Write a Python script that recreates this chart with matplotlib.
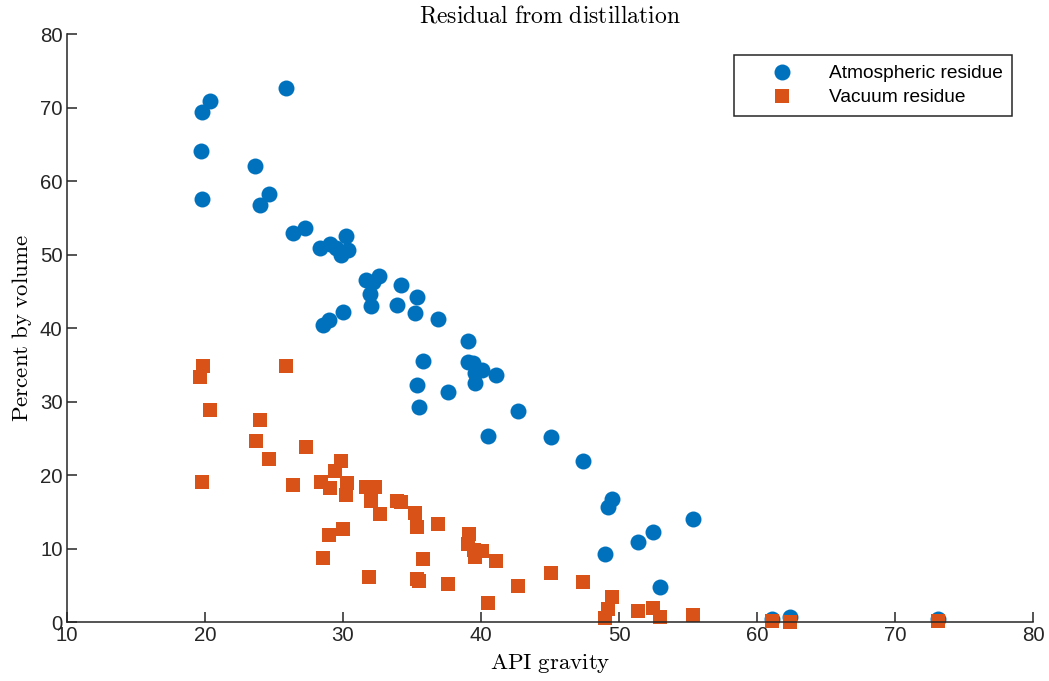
import matplotlib
matplotlib.use("Agg")
import matplotlib.pyplot as plt

# Atmospheric residue (API gravity, percent by volume)
atm_api = [19.72, 19.80, 20.40, 19.80, 25.85, 23.65, 24.00, 24.67, 26.39, 27.26,
           28.35, 29.07, 29.50, 29.84, 30.20, 30.35, 31.65, 32.20, 32.60, 32.00,
           32.05, 34.18, 33.90, 35.34, 35.22, 36.90, 28.54, 29.00, 29.99, 39.08,
           35.78, 39.08, 39.44, 40.05, 39.57, 41.09, 39.57, 35.39, 37.59, 35.49,
           42.70, 40.49, 45.07, 47.39, 49.50, 49.17, 48.98, 51.35, 52.48, 55.37,
           52.96, 61.10, 62.38, 73.07]
atm_pct = [64.1, 69.4, 70.9, 57.6, 72.6, 62.0, 56.8, 58.2, 52.9, 53.6,
           50.9, 51.4, 50.9, 49.9, 52.6, 50.6, 46.6, 46.3, 47.1, 44.7,
           43.0, 45.9, 43.2, 44.2, 42.1, 41.3, 40.4, 41.1, 42.2, 38.2,
           35.5, 35.4, 35.3, 34.3, 33.9, 33.6, 32.6, 32.3, 31.3, 29.3,
           28.7, 25.4, 25.2, 22.0, 16.8, 15.7, 9.25, 10.9, 12.3, 14.05,
           4.85, 0.5, 0.75, 0.4]

# Vacuum residue
vac_api = [19.66, 19.85, 20.38, 19.78, 25.86, 24.00, 23.68, 24.67, 27.33, 26.37,
           28.39, 29.07, 29.43, 29.84, 30.27, 30.22, 29.00, 29.99, 28.54, 31.91,
           31.67, 32.32, 32.01, 32.69, 33.90, 34.20, 35.22, 35.34, 36.86, 39.13,
           39.08, 39.49, 40.10, 39.57, 41.09, 35.78, 35.34, 35.51, 37.59, 40.49,
           42.66, 45.07, 47.36, 49.50, 49.17, 48.98, 51.35, 52.43, 52.96, 55.37,
           61.05, 62.38, 73.07]
vac_pct = [33.4, 34.8, 28.9, 19.1, 34.8, 27.5, 24.65, 22.2, 23.9, 18.7,
           19.1, 18.3, 20.6, 22.0, 19.0, 17.3, 11.9, 12.7, 8.8, 6.2,
           18.45, 18.45, 16.5, 14.7, 16.5, 16.4, 14.9, 13.0, 13.4, 12.0,
           10.7, 9.8, 9.7, 8.9, 8.4, 8.6, 5.9, 5.65, 5.2, 2.65,
           5.0, 6.75, 5.45, 3.5, 1.75, 0.55, 1.6, 2.0, 0.7, 1.0,
           0.2, 0.1, 0.2]

x_ticks = [10, 20, 30, 40, 50, 60, 70, 80]
y_ticks = [0, 10, 20, 30, 40, 50, 60, 70, 80]

plt.rcParams['mathtext.fontset'] = 'cm'
plt.rcParams['font.family'] = ['Liberation Sans', 'DejaVu Sans']

fig = plt.figure(figsize=(10.49, 6.81), dpi=100)
ax = fig.add_axes([0.0636, 0.0862, 0.9214, 0.8638])

blue = '#0072BD'
orange = '#D95319'
ax.plot(atm_api, atm_pct, 'o', color=blue, ms=11.5, mew=0, label='Atmospheric residue', clip_on=False)
ax.plot(vac_api, vac_pct, 's', color=orange, ms=10.2, mew=0, label='Vacuum residue', clip_on=False)

ax.set_xlim(10, 80)
ax.set_ylim(0, 80)
ax.set_xticks(x_ticks)
ax.set_yticks(y_ticks)
for s in ['top', 'right']:
    ax.spines[s].set_visible(False)
for s in ['bottom', 'left']:
    ax.spines[s].set_color('#262626')
    ax.spines[s].set_linewidth(1.1)
ax.tick_params(direction='in', length=7, width=1.1, color='#262626',
               labelcolor='#262626', labelsize=14.7, pad=3)

ax.set_title(r'$\mathrm{Residual\ from\ distillation}$', fontsize=17, pad=8, color='black')
ax.set_xlabel(r'$\mathrm{API\ gravity}$', fontsize=16.5, labelpad=5)
ax.set_ylabel(r'$\mathrm{Percent\ by\ volume}$', fontsize=16.5, labelpad=4)

leg = ax.legend(loc='upper right', bbox_to_anchor=(0.978, 0.964), borderaxespad=0,
                fontsize=13.8, handlelength=4.0, handletextpad=0.45, borderpad=0.5,
                labelspacing=0.35, fancybox=False, framealpha=1, edgecolor='#262626')
leg.get_frame().set_linewidth(1.1)
for t in leg.get_texts():
    t.set_color('black')

fig.savefig('out.png', dpi=100)
